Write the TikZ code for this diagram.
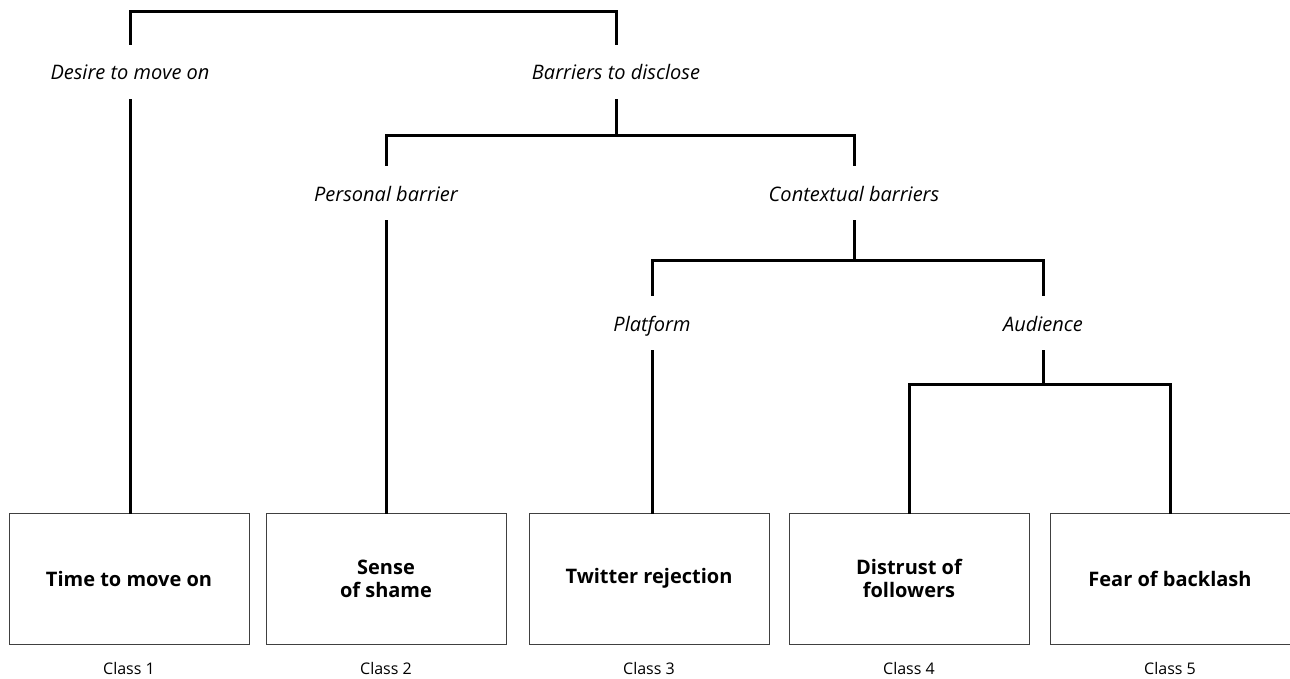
\documentclass[tikz,border=0pt]{standalone}
\usepackage{fontspec}
\setmainfont{Open Sans}
\usepackage{tikz}

\begin{document}
\begin{tikzpicture}[x=1pt,y=-1pt,
    tree/.style={line width=3pt,line cap=rect},
    theme/.style={font=\fontsize{20}{23}\selectfont\itshape,text height=18pt,text depth=2pt,
        minimum height=56pt,inner sep=0pt},
    classbox/.style={draw=black!75,line width=1pt,minimum width=240pt,minimum height=131pt,
        font=\fontsize{20}{23}\selectfont\bfseries,align=center},
    classname/.style={font=\fontsize{16}{19}\selectfont}]
        \useasboundingbox (0,0) rectangle (1290,679);
        % themes
        \node[theme] (desire) at (130,72) {Desire to move on};
        \node[theme] (barriers) at (616,72) {Barriers to disclose};
        \node[theme] (personal) at (386,193) {Personal barrier};
        \node[theme] (context) at (854,193) {Contextual barriers};
        \node[theme] (platform) at (652,323) {Platform};
        \node[theme] (audience) at (1043,323) {Audience};
        % classes
        \node[classbox] (c1) at (129,578.5) {Time to move on};
        \node[classbox] (c2) at (386,578.5) {Sense\\of shame};
        \node[classbox] (c3) at (649,578.5) {\strut Twitter rejection};
        \node[classbox] (c4) at (909,578.5) {Distrust of\\followers};
        \node[classbox] (c5) at (1170,578.5) {Fear of backlash};
        \node[classname] (n1) at (129,668) {Class 1};
        \node[classname] (n2) at (386,668) {Class 2};
        \node[classname] (n3) at (649,668) {Class 3};
        \node[classname] (n4) at (909,668) {Class 4};
        \node[classname] (n5) at (1170,668) {Class 5};
        % junctions
        \coordinate (top) at (373,12);
        \coordinate (jbar) at (616,136);
        \coordinate (jctx) at (854,260);
        \coordinate (jaud) at (1043,384);
        % branches
        \draw[tree] (desire.north) |- (top) -| (barriers.north);
        \draw[tree] (desire.south) -- (desire.south |- c1.north);
        \draw[tree] (barriers.south) -- (jbar);
        \draw[tree] (personal.north) |- (jbar) -| (context.north);
        \draw[tree] (personal.south) -- (c2.north);
        \draw[tree] (context.south) -- (jctx);
        \draw[tree] (platform.north) |- (jctx) -| (audience.north);
        \draw[tree] (platform.south) -- (platform.south |- c3.north);
        \draw[tree] (audience.south) -- (jaud);
        \draw[tree] (c4.north) |- (jaud) -| (c5.north);
    \end{tikzpicture}
\end{document}
